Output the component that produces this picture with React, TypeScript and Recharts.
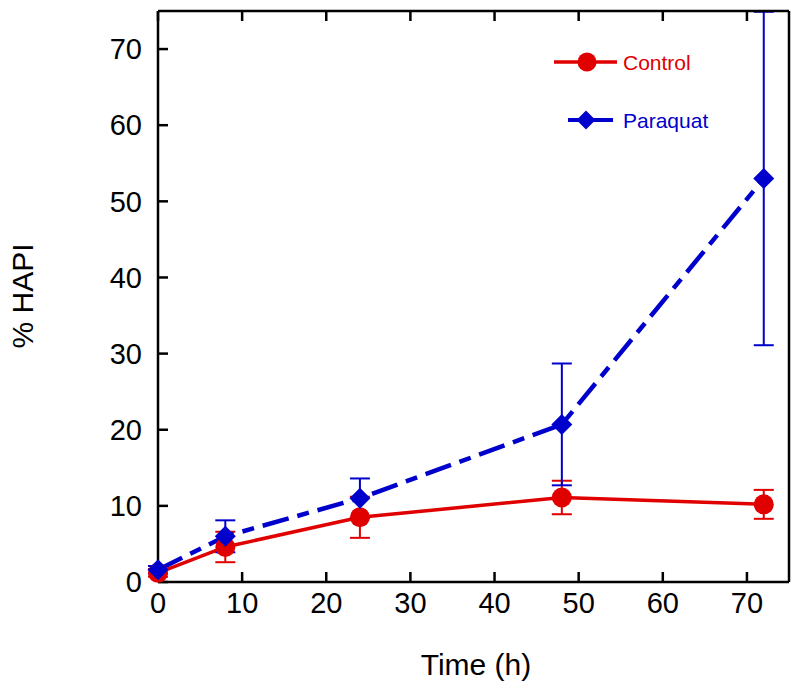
import React from 'react';
import { LineChart, Line, XAxis, YAxis, ErrorBar, Legend, Label } from 'recharts';

// time points (h)
const times = [0, 8, 24, 48, 72];
// % HAPI, mean and error
const controlValues = [1.2, 4.6, 8.5, 11.1, 10.2];
const controlErrors = [0.5, 2.0, 2.7, 2.2, 1.9];
const paraquatValues = [1.6, 6.0, 11.0, 20.7, 53.0];
const paraquatErrors = [0.5, 2.1, 2.6, 8.0, 21.9];

const xTicks = [0, 10, 20, 30, 40, 50, 60, 70];
const yTicks = [0, 10, 20, 30, 40, 50, 60, 70];

const RED = '#e00000';
const BLUE = '#0000cc';
const FONT = '"Liberation Sans", Arial, sans-serif';

const data = times.map((t, i) => ({
  time: t,
  control: controlValues[i],
  controlErr: controlErrors[i],
  paraquat: paraquatValues[i],
  paraquatErr: paraquatErrors[i],
}));

const Diamond = (props: any) => {
  const { cx, cy, size = 10, fill } = props;
  if (cx == null || cy == null) return null;
  return (
    <polygon
      points={`${cx},${cy - size} ${cx + size},${cy} ${cx},${cy + size} ${cx - size},${cy}`}
      fill={fill}
    />
  );
};

const renderLegend = () => (
  <svg width={200} height={110} style={{ overflow: 'visible' }}>
    <line x1={4} y1={22} x2={67} y2={22} stroke={RED} strokeWidth={3.5} />
    <circle cx={37} cy={22} r={9.5} fill={RED} />
    <text x={73} y={22} dominantBaseline="central" fill={RED} fontSize={21} fontFamily={FONT}>
      Control
    </text>
    <line x1={18} y1={80} x2={63} y2={80} stroke={BLUE} strokeWidth={4} />
    <Diamond cx={36} cy={80} size={9.5} fill={BLUE} />
    <text x={73} y={80} dominantBaseline="central" fill={BLUE} fontSize={21} fontFamily={FONT}>
      Paraquat
    </text>
  </svg>
);

const tickStyle = { fill: '#000', fontSize: 29, fontFamily: FONT };

export default function App() {
  return (
    <div style={{ position: 'absolute', left: 0, top: 0, background: '#fff' }}>
      <LineChart
        width={800}
        height={693}
        data={data}
        margin={{ top: 10, right: 10, bottom: 51, left: 58 }}
      >
        <XAxis
          dataKey="time"
          type="number"
          domain={[0, 75]}
          ticks={xTicks}
          interval={0}
          height={60}
          tickSize={-10}
          tickMargin={20}
          stroke="#000"
          strokeWidth={2.5}
          tick={tickStyle}
        >
          <Label
            content={() => (
              <text x={476} y={675} textAnchor="middle" fontSize={30} fontFamily={FONT} fill="#000">
                Time (h)
              </text>
            )}
          />
        </XAxis>
        <XAxis
          xAxisId="top"
          orientation="top"
          dataKey="time"
          type="number"
          domain={[0, 75]}
          ticks={xTicks}
          interval={0}
          height={1}
          tickSize={-10}
          tickFormatter={() => ''}
          stroke="#000"
          strokeWidth={2.5}
        />
        <YAxis
          type="number"
          domain={[0, 75]}
          ticks={yTicks}
          interval={0}
          width={100}
          tickSize={-10}
          tickMargin={26}
          stroke="#000"
          strokeWidth={2.5}
          tick={tickStyle}
        >
          <Label
            content={() => (
              <text
                x={22}
                y={296}
                transform="rotate(-90 22 296)"
                textAnchor="middle"
                dominantBaseline="central"
                fontSize={30}
                fontFamily={FONT}
                fill="#000"
              >
                % HAPI
              </text>
            )}
          />
        </YAxis>
        <YAxis
          yAxisId="right"
          orientation="right"
          type="number"
          domain={[0, 75]}
          ticks={yTicks}
          interval={0}
          width={1}
          tickSize={-10}
          tickFormatter={() => ''}
          stroke="#000"
          strokeWidth={2.5}
        />
        <Line
          dataKey="control"
          stroke={RED}
          strokeWidth={3.5}
          dot={{ r: 10, fill: RED, stroke: RED, strokeWidth: 0 }}
          isAnimationActive={false}
        >
          <ErrorBar dataKey="controlErr" direction="y" width={10} stroke={RED} strokeWidth={2} />
        </Line>
        <Line
          dataKey="paraquat"
          stroke={BLUE}
          strokeWidth={4.5}
          strokeDasharray="27 9 12 9"
          dot={(p: any) => <Diamond key={`d-${p.index}`} cx={p.cx} cy={p.cy} size={10.5} fill={BLUE} />}
          isAnimationActive={false}
        >
          <ErrorBar dataKey="paraquatErr" direction="y" width={10} stroke={BLUE} strokeWidth={2} />
        </Line>
        <Legend
          layout="horizontal"
          verticalAlign="middle"
          align="center"
          content={renderLegend}
          wrapperStyle={{ position: 'absolute', left: 550, top: 40, width: 200, height: 110 }}
        />
      </LineChart>
    </div>
  );
}
